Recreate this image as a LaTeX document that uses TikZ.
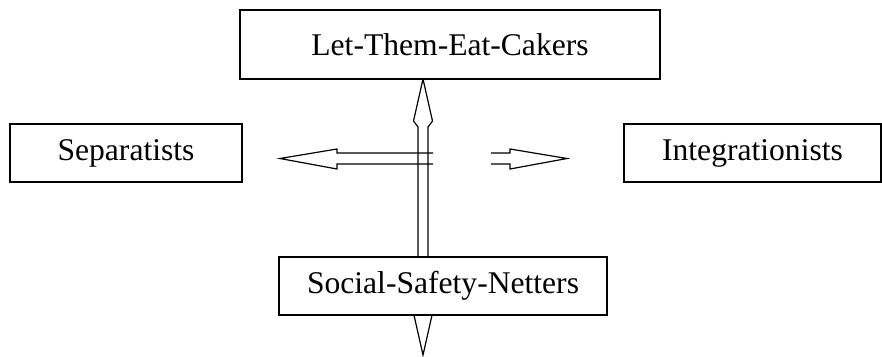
\documentclass[tikz,border=0pt]{standalone}
\usepackage{fontspec}
\setmainfont{Liberation Serif}
\usetikzlibrary{calc}
\tikzset{
    group/.style={draw, line width=1.6pt, fill=white, inner sep=0pt, minimum height=58pt,
        font=\fontsize{31.6}{38}\selectfont},
    fatarrow/.style={line width=1.2pt, line join=miter}
}

\begin{document}
\begin{tikzpicture}[x=1pt, y=-1pt]
    \useasboundingbox (0,0) rectangle (882,356);
    % vertical axis, drawn first so the lower box covers it
    \coordinate (uptip) at (423,79);
    \coordinate (downtip) at (423,355);
    \draw[fatarrow] (uptip) -- ++(-9.5,42) -- ++(4.5,6) -- ($(downtip)+(-5,-48)$) -- ++(-4.5,6)
        -- (downtip) -- ++(9.5,-42) -- ++(-4.5,-6) -- ($(uptip)+(5,48)$) -- ++(4.5,-6) -- cycle;
    % horizontal axis
    \coordinate (ltip) at (280,158.5);
    \coordinate (rtip) at (567,158.5);
    \draw[fatarrow] ($(ltip)+(153,-5.5)$) -- ++(-96,0) -- ++(0,-4) -- (ltip) -- ++(57,10.5) -- ++(0,-5) -- ++(96,0);
    \draw[fatarrow] ($(rtip)+(-76,-5.5)$) -- ++(19,0) -- ++(0,-4) -- (rtip) -- ++(-57,10.5) -- ++(0,-5) -- ++(-19,0);
    % the four groups
    \node[group, minimum width=420pt, minimum height=69pt] (cakers) at (450,44.5) {Let-Them-Eat-Cakers};
    \node[group, minimum width=232pt] (separ) at (126,153) {Separatists};
    \node[group, minimum width=257pt] (integ) at (752.5,153) {Integrationists};
    \node[group, minimum width=328pt] (safety) at (443,286) {Social-Safety-Netters};
\end{tikzpicture}
\end{document}
